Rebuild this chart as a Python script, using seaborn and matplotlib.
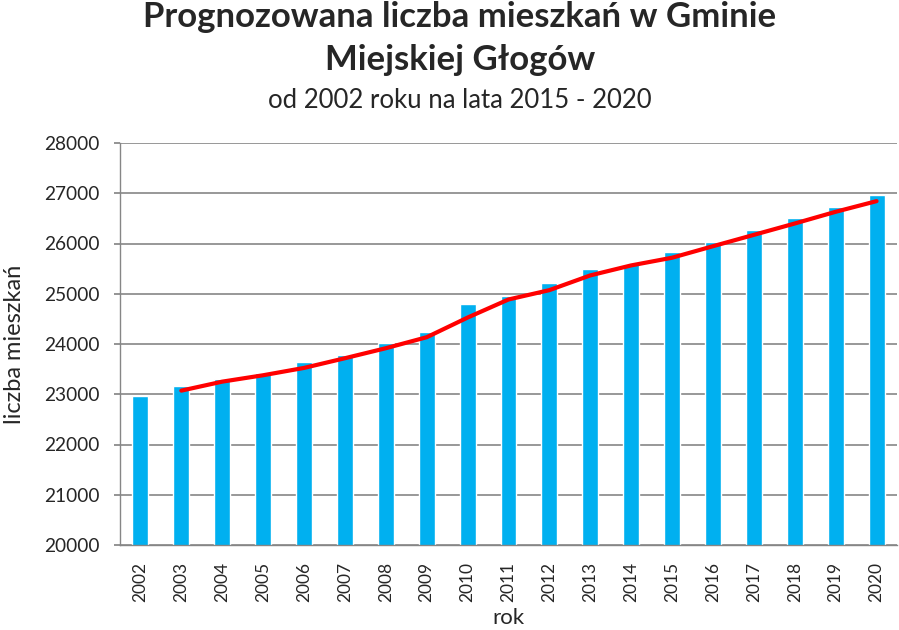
import matplotlib
matplotlib.use("Agg")
import matplotlib.pyplot as plt
import seaborn as sns
import numpy as np
import pandas as pd

years = [str(y) for y in range(2002, 2021)]
population = [22970, 23165, 23305, 23424, 23643, 23783, 24026, 24245, 24803, 24946,
              25205, 25484, 25584, 25823, 26030, 26265, 26504, 26723, 26966]
trend_years = [str(y) for y in range(2003, 2021)]
trend_values = [23072, 23251, 23378, 23524, 23717, 23916, 24135, 24526, 24886,
                25072, 25365, 25564, 25717, 25946, 26172, 26398, 26631, 26843]
yticks = list(range(20000, 28001, 1000))

title1 = "Prognozowana liczba mieszkań w Gminie"
title2 = "Miejskiej Głogów"
subtitle = "od 2002 roku na lata 2015 - 2020"

sns.set_theme(style="white")
plt.rcParams['font.family'] = ['Lato', 'DejaVu Sans']

fig = plt.figure(figsize=(8.99, 6.30), dpi=100)
ax = fig.add_axes([120/899, 85/630, 777/899, 402/630])

df = pd.DataFrame({"rok": years, "val": population})
sns.barplot(data=df, x="rok", y="val", color="#00B0F0", saturation=1, width=0.39, ax=ax, zorder=2)

pos = [years.index(y) for y in trend_years]
dft = pd.DataFrame({"x": pos, "y": trend_values})
sns.lineplot(data=dft, x="x", y="y", color="#FF0000", linewidth=3, ax=ax, zorder=3)

ax.set_ylim(20000, 28000)
ax.set_xlim(-0.5, len(years) - 0.5)
ax.set_yticks(yticks)
ax.set_yticklabels([str(t) for t in yticks], fontsize=13.8)
ax.set_xticks(range(len(years)))
ax.set_xticklabels(years, rotation=90, fontsize=12.5)
ax.yaxis.grid(True, color="#868686", linewidth=1.2, zorder=0)
ax.set_axisbelow(True)
for s in ["top", "right"]:
    ax.spines[s].set_visible(False)
for s in ["left", "bottom"]:
    ax.spines[s].set_color("#868686")
    ax.spines[s].set_linewidth(1.0)
ax.tick_params(axis="y", which="both", left=True, length=4, color="#868686", pad=11)
ax.tick_params(axis="x", bottom=False, pad=6)
ax.set_xlabel("rok", fontsize=16)
ax.set_ylabel("liczba mieszkań", fontsize=17)
ax.yaxis.label.set_va("center")
ax.xaxis.label.set_va("center")
ax.yaxis.set_label_coords((14 - 120) / 777, 0.5)
ax.xaxis.set_label_coords(0.5, (545 - 618) / 402)

fig.text(460/899, 1 - 17/630, title1, ha="center", va="center", fontsize=25, fontweight="bold")
fig.text(460/899, 1 - 60/630, title2, ha="center", va="center", fontsize=25, fontweight="bold")
fig.text(460/899, 1 - 101/630, subtitle, ha="center", va="center", fontsize=18.5)

fig.savefig("out.png", dpi=100)
